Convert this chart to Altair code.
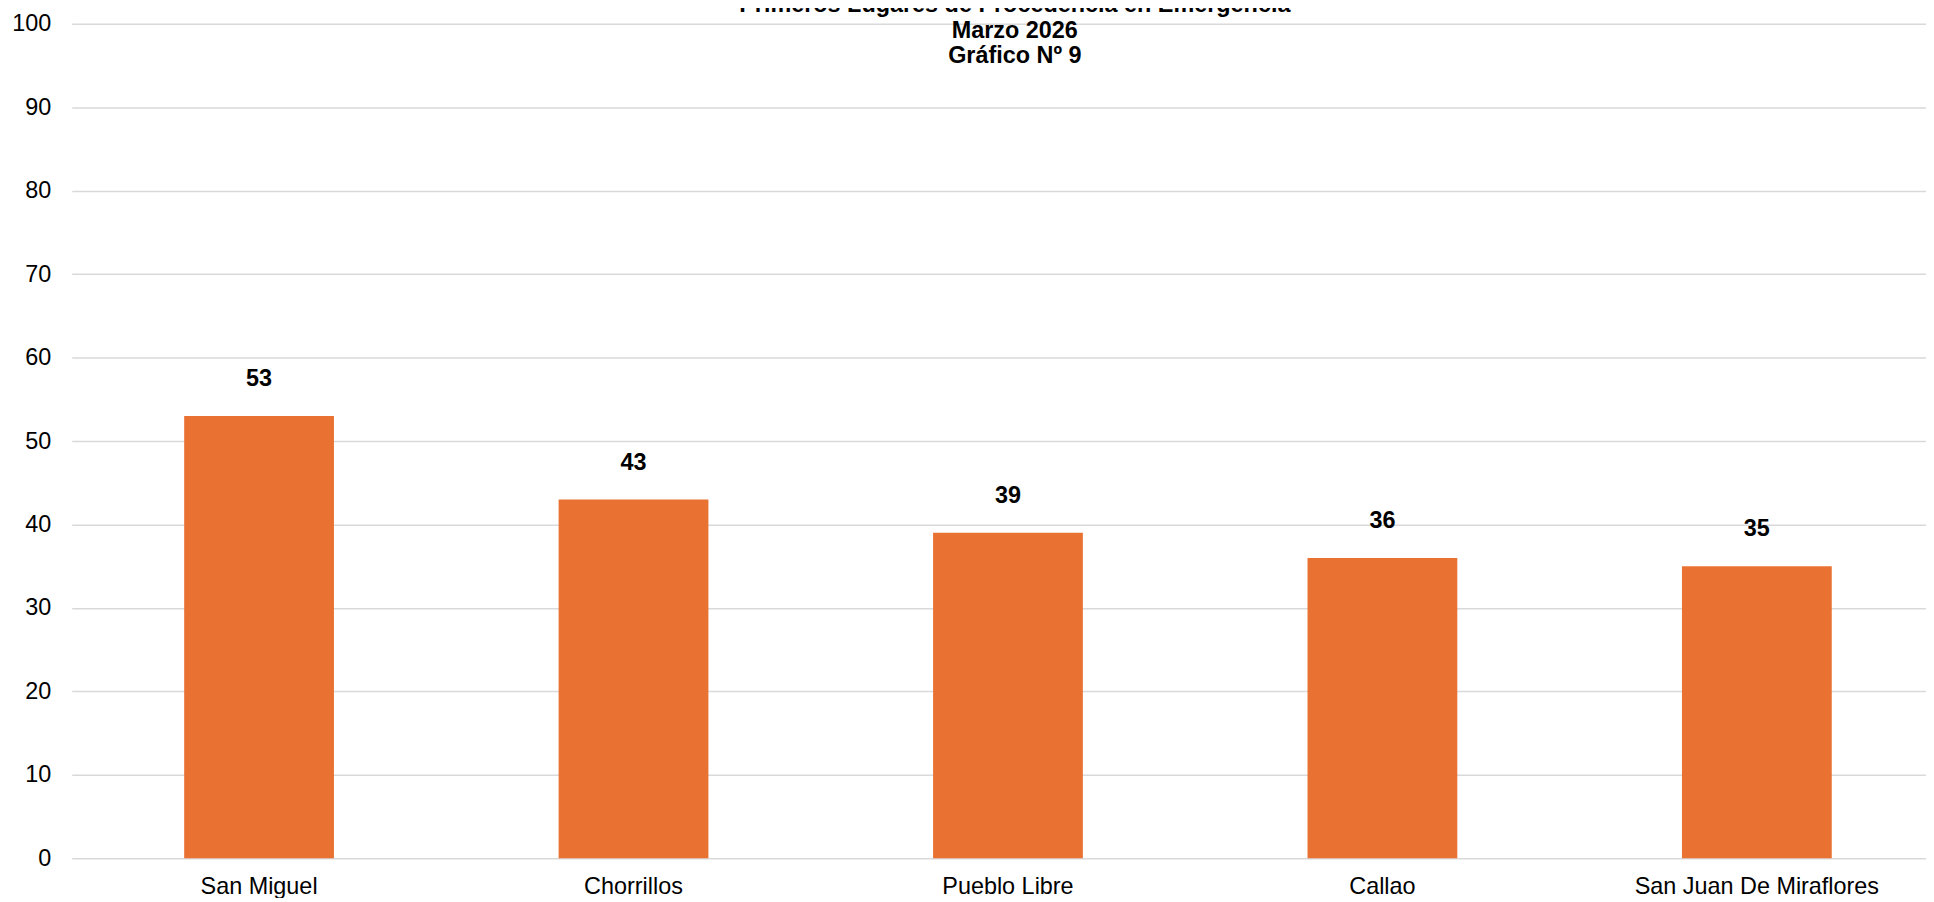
import altair as alt
import pandas as pd

categories = ["San Miguel", "Chorrillos", "Pueblo Libre", "Callao", "San Juan De Miraflores"]
values = [53, 43, 39, 36, 35]
title_lines = ["Primeros Lugares de Procedencia en Emergencia", "Marzo 2026", "Gráfico Nº 9"]
y_ticks = list(range(0, 101, 10))

df = pd.DataFrame({"lugar": categories, "casos": values})

FONT = "Liberation Sans"
FS = 23.5

x = alt.X(
    "lugar:N",
    sort=categories,
    title=None,
    scale=alt.Scale(paddingInner=0.6, paddingOuter=0.276, align=0.544),
    axis=alt.Axis(labelAngle=0, ticks=False, labelPadding=16, labelFontSize=FS,
                  labelFont=FONT, labelColor="#000000", domain=False, grid=False,
                  labelLimit=400),
)
y = alt.Y(
    "casos:Q",
    title=None,
    scale=alt.Scale(domain=[0, 100], nice=False),
    axis=alt.Axis(values=y_ticks, ticks=False, domain=False, labelPadding=21,
                  labelFontSize=FS, labelFont=FONT, labelColor="#000000",
                  gridColor="#d9d9d9", gridWidth=1.5),
)

bars = alt.Chart(df).mark_bar(color="#E97132").encode(x=x, y=y)
labels = alt.Chart(df).mark_text(
    dy=-37, fontSize=FS, fontWeight="bold", font=FONT, color="#000000", baseline="middle"
).encode(x=x, y=y, text="casos:Q")

chart = (bars + labels).properties(
    width=1862,
    height=838,
    autosize=alt.AutoSizeParams(type="none"),
    padding={"left": 64, "top": 14, "right": 0, "bottom": 38},
    title=alt.TitleParams(
        text=title_lines, fontSize=FS, fontWeight="bold", font=FONT, color="#000000",
        lineHeight=25.5, anchor="middle", offset=-56, dx=16,
    ),
).configure_view(stroke=None)

chart.save("out.html", embed_options={"renderer": "svg", "actions": False})
